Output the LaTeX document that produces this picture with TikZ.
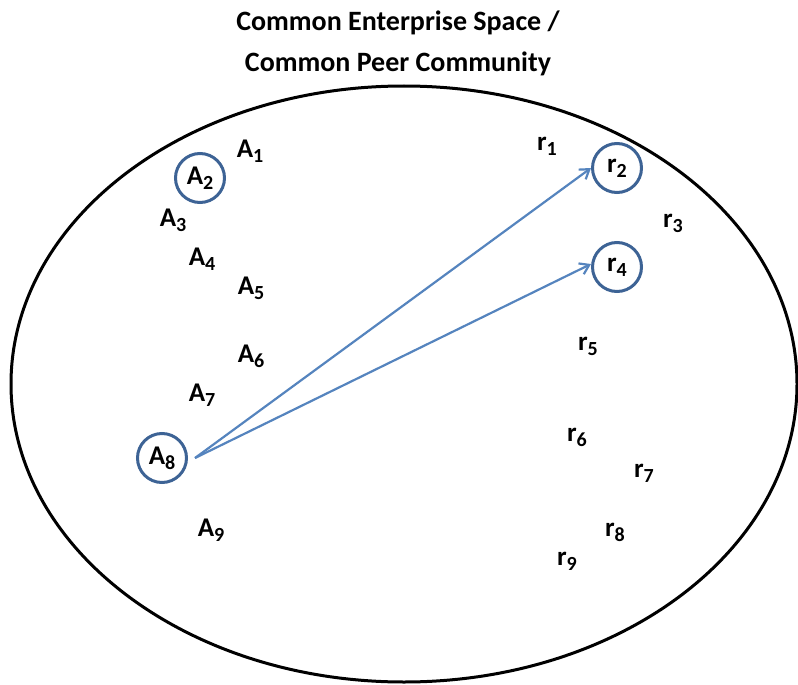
\documentclass[tikz,border=0pt]{standalone}
\usepackage{fontspec}
\setmainfont{Carlito}
\usepackage{xcolor}
\usetikzlibrary{arrows.meta,positioning}

\definecolor{ringblue}{HTML}{3D6395}
\definecolor{linkblue}{HTML}{5584BE}
\newcommand{\idx}[1]{\raisebox{-5pt}{\fontsize{20}{20}\selectfont #1}}

\begin{document}
\begin{tikzpicture}[
  x=1pt, y=-1pt,
  font=\bfseries\fontsize{27}{28}\selectfont,
  label/.style={inner sep=0pt},
  picked/.style={circle, draw=ringblue, line width=3pt,
                 minimum size=49pt, inner sep=0pt},
  space/.style={line width=3pt},
  link/.style={-{Straight Barb[length=9pt, width=12pt]}, draw=linkblue,
               line width=2.2pt},
]
  \useasboundingbox (0,0) rectangle (798,685);

  \node[font=\bfseries\fontsize{28}{41}\selectfont, align=center] (title)
    at (398,43) {Common Enterprise Space /\\Common Peer Community};

  \draw[space] (404,384) ellipse [x radius=393, y radius=298];

  % agents
  \node[label] (a1) at (250,151) {A\idx{1}};
  \node[picked] (a2) at (200,178) {A\idx{2}};
  \node[label] (a3) at (173,220) {A\idx{3}};
  \node[label] (a4) at (202,259) {A\idx{4}};
  \node[label] (a5) at (251,288) {A\idx{5}};
  \node[label] (a6) at (251,356) {A\idx{6}};
  \node[label] (a7) at (202,395) {A\idx{7}};
  \node[picked] (a8) at (162,458) {A\idx{8}};
  \node[label] (a9) at (211,530) {A\idx{9}};

  % resources
  \node[label] (r1) at (547,146) {r\idx{1}};
  \node[picked] (r2) at (617,168) {r\idx{2}};
  \node[label] (r3) at (673,223) {r\idx{3}};
  \node[picked] (r4) at (617,267) {r\idx{4}};
  \node[label] (r5) at (588,346) {r\idx{5}};
  \node[label] (r6) at (577,437) {r\idx{6}};
  \node[label] (r7) at (644,473) {r\idx{7}};
  \node[label] (r8) at (615,532) {r\idx{8}};
  \node[label] (r9) at (567,561) {r\idx{9}};

  \coordinate (src) at ([xshift=7pt]a8.east);
  \draw[link] (src) -- (r2.west);
  \draw[link] (src) -- ([yshift=3pt]r4.west);

\end{tikzpicture}
\end{document}
